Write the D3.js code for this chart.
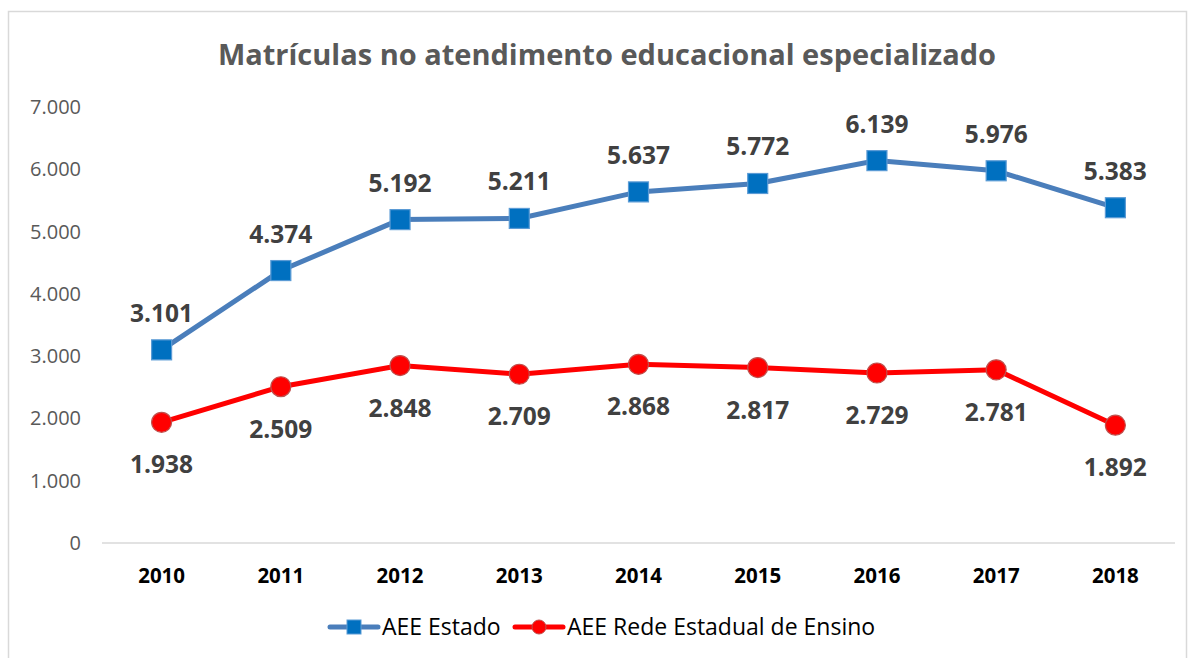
<!DOCTYPE html>
<html>
<head>
  <meta charset="UTF-8">
  <title>AEE</title>
  <style>
    body { margin: 0; background: #fff; }
    text { font-family: "Open Sans", "Noto Sans", sans-serif; }
  </style>
</head>
<body>
<svg></svg>
<script src="https://d3js.org/d3.v7.min.js"></script>
<script>
const width = 1195, height = 658;

const years = ["2010", "2011", "2012", "2013", "2014", "2015", "2016", "2017", "2018"];
const estado = [3101, 4374, 5192, 5211, 5637, 5772, 6139, 5976, 5383];
const redeEstadual = [1938, 2509, 2848, 2709, 2868, 2817, 2729, 2781, 1892];
const yTicks = [0, 1000, 2000, 3000, 4000, 5000, 6000, 7000];
const seriesNames = ["AEE Estado", "AEE Rede Estadual de Ensino"];

const svg = d3.select("svg").attr("width", width).attr("height", height);

// chart border
svg.append("rect")
    .attr("x", 8.5).attr("y", 11.5)
    .attr("width", 1178).attr("height", 660)
    .attr("fill", "#fff").attr("stroke", "#d9d9d9").attr("stroke-width", 1.5);

const x = d3.scalePoint().domain(years).range([102, 1175]).padding(0.5);
const y = d3.scaleLinear().domain([0, 7000]).range([543, 107]);

const fmt = v => d3.format(",")(v).replace(/,/g, ".");

// title
svg.append("text")
    .attr("x", 607).attr("y", 65)
    .attr("text-anchor", "middle")
    .attr("fill", "#595959")
    .style("font-size", "29px").style("font-weight", "bold")
    .text("Matrículas no atendimento educacional especializado");

// y axis labels
svg.append("g")
    .selectAll("text")
    .data(yTicks)
    .join("text")
    .attr("x", 81).attr("y", d => y(d))
    .attr("dy", "0.35em")
    .attr("text-anchor", "end")
    .attr("fill", "#595959")
    .style("font-size", "20px")
    .text(d => fmt(d));

// baseline
svg.append("line")
    .attr("x1", 102).attr("x2", 1175)
    .attr("y1", y(0)).attr("y2", y(0))
    .attr("stroke", "#d9d9d9").attr("stroke-width", 1.5);

// x labels
svg.append("g")
    .selectAll("text")
    .data(years)
    .join("text")
    .attr("x", d => x(d)).attr("y", 583)
    .attr("text-anchor", "middle")
    .attr("fill", "#000")
    .style("font-size", "20.5px").style("font-weight", "bold")
    .text(d => d);

const line = d3.line().x((d, i) => x(years[i])).y(d => y(d));

// blue series
svg.append("path")
    .datum(estado)
    .attr("d", line)
    .attr("fill", "none").attr("stroke", "#4a7ebb").attr("stroke-width", 5);

svg.append("g").selectAll("rect")
    .data(estado)
    .join("rect")
    .attr("x", (d, i) => x(years[i]) - 10)
    .attr("y", d => y(d) - 10)
    .attr("width", 20).attr("height", 20)
    .attr("fill", "#0070c0").attr("stroke", "#5b9bd5").attr("stroke-width", 1.2);

svg.append("g").selectAll("text")
    .data(estado)
    .join("text")
    .attr("x", (d, i) => x(years[i])).attr("y", d => y(d) - 28)
    .attr("text-anchor", "middle")
    .attr("fill", "#404040")
    .style("font-size", "24.5px").style("font-weight", "bold")
    .text(d => fmt(d));

// red series
svg.append("path")
    .datum(redeEstadual)
    .attr("d", line)
    .attr("fill", "none").attr("stroke", "#ff0000").attr("stroke-width", 5);

svg.append("g").selectAll("circle")
    .data(redeEstadual)
    .join("circle")
    .attr("cx", (d, i) => x(years[i]))
    .attr("cy", d => y(d))
    .attr("r", 10)
    .attr("fill", "#ff0000").attr("stroke", "#c0504d").attr("stroke-width", 1.2);

svg.append("g").selectAll("text")
    .data(redeEstadual)
    .join("text")
    .attr("x", (d, i) => x(years[i])).attr("y", d => y(d) + 51)
    .attr("text-anchor", "middle")
    .attr("fill", "#404040")
    .style("font-size", "24.5px").style("font-weight", "bold")
    .text(d => fmt(d));

// legend
const legend = svg.append("g").attr("transform", "translate(0,627)");
const lg1 = legend.append("g").attr("transform", "translate(330,0)");
lg1.append("line").attr("x1", 0).attr("x2", 48)
    .attr("stroke", "#4a7ebb").attr("stroke-width", 5).attr("stroke-linecap", "round");
lg1.append("rect").attr("x", 17).attr("y", -7).attr("width", 14).attr("height", 14)
    .attr("fill", "#0070c0").attr("stroke", "#5b9bd5");
lg1.append("text").attr("x", 52).attr("dy", "0.35em")
    .attr("fill", "#000").style("font-size", "23px").text(seriesNames[0]);

const lg2 = legend.append("g").attr("transform", "translate(515,0)");
lg2.append("line").attr("x1", 0).attr("x2", 48)
    .attr("stroke", "#ff0000").attr("stroke-width", 5).attr("stroke-linecap", "round");
lg2.append("circle").attr("cx", 24).attr("r", 7)
    .attr("fill", "#ff0000").attr("stroke", "#c0504d");
lg2.append("text").attr("x", 52).attr("dy", "0.35em")
    .attr("fill", "#000").style("font-size", "23px").text(seriesNames[1]);
</script>
</body>
</html>
